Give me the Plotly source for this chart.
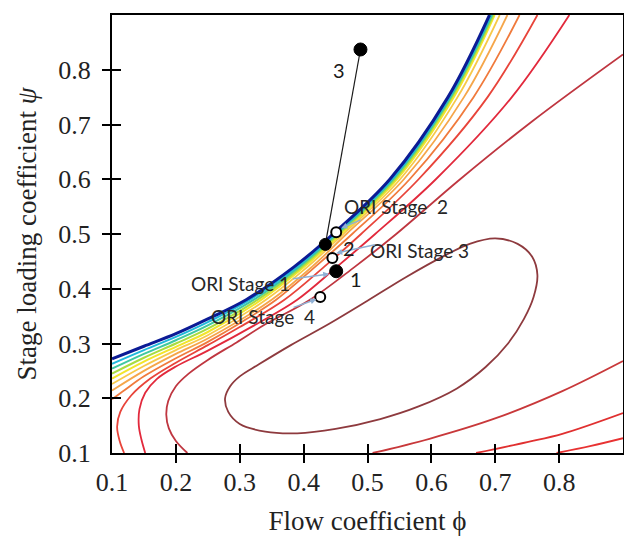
import plotly.graph_objects as go

# ---------------- data ----------------
tick_vals = [0.1, 0.2, 0.3, 0.4, 0.5, 0.6, 0.7, 0.8]
tick_text = ["0.1", "0.2", "0.3", "0.4", "0.5", "0.6", "0.7", "0.8"]
tick_marks = [0.2, 0.3, 0.4, 0.5, 0.6, 0.7, 0.8]

# contour lines (upper family, from the boundary outward)
blue_x = [0.691, 0.626, 0.535, 0.446, 0.385, 0.31, 0.25, 0.2, 0.15, 0.1]
blue_y = [0.9, 0.75, 0.6, 0.5, 0.44, 0.38, 0.345, 0.318, 0.295, 0.272]

c1_x = [0.693, 0.628, 0.538, 0.449, 0.389, 0.316, 0.25, 0.2, 0.15, 0.1]
c1_y = [0.9, 0.75, 0.6, 0.5, 0.44, 0.38, 0.339, 0.312, 0.288, 0.263]
c2_x = [0.695, 0.630, 0.540, 0.452, 0.393, 0.322, 0.25, 0.2, 0.15, 0.1]
c2_y = [0.9, 0.75, 0.6, 0.5, 0.44, 0.38, 0.333, 0.306, 0.281, 0.254]
c3_x = [0.697, 0.632, 0.543, 0.455, 0.397, 0.328, 0.25, 0.2, 0.15, 0.1]
c3_y = [0.9, 0.75, 0.6, 0.5, 0.44, 0.38, 0.327, 0.300, 0.274, 0.245]
c4_x = [0.699, 0.635, 0.546, 0.458, 0.401, 0.334, 0.25, 0.2, 0.15, 0.1]
c4_y = [0.9, 0.75, 0.6, 0.5, 0.44, 0.38, 0.321, 0.294, 0.267, 0.236]
c5_x = [0.707, 0.641, 0.551, 0.462, 0.406, 0.341, 0.25, 0.2, 0.15, 0.1]
c5_y = [0.9, 0.75, 0.6, 0.5, 0.44, 0.38, 0.315, 0.288, 0.259, 0.226]
c6_x = [0.719, 0.651, 0.557, 0.467, 0.413, 0.350, 0.25, 0.2, 0.15, 0.1]
c6_y = [0.9, 0.75, 0.6, 0.5, 0.44, 0.38, 0.309, 0.281, 0.250, 0.214]
c7_x = [0.738, 0.666, 0.566, 0.476, 0.418, 0.357, 0.3, 0.25, 0.2, 0.15, 0.12, 0.1]
c7_y = [0.9, 0.75, 0.6, 0.5, 0.44, 0.38, 0.337, 0.303, 0.273, 0.240, 0.215, 0.198]
c8_x = [0.766, 0.688, 0.580, 0.490, 0.432, 0.370, 0.3, 0.25, 0.2, 0.16, 0.13, 0.113, 0.108, 0.112, 0.119]
c8_y = [0.9, 0.75, 0.6, 0.5, 0.44, 0.38, 0.33, 0.297, 0.265, 0.236, 0.205, 0.175, 0.148, 0.122, 0.1]
c9_x = [0.816, 0.726, 0.607, 0.512, 0.452, 0.39, 0.33, 0.25, 0.2, 0.17, 0.152, 0.143, 0.142, 0.146, 0.152]
c9_y = [0.9, 0.75, 0.6, 0.5, 0.44, 0.38, 0.338, 0.287, 0.258, 0.235, 0.21, 0.18, 0.15, 0.125, 0.1]
c10_x = [0.9, 0.758, 0.645, 0.545, 0.48, 0.41, 0.34, 0.295, 0.25, 0.22, 0.2, 0.188, 0.185, 0.189, 0.2, 0.218]
c10_y = [0.828, 0.706, 0.6, 0.5, 0.44, 0.38, 0.335, 0.302, 0.27, 0.245, 0.222, 0.195, 0.17, 0.145, 0.122, 0.1]

# closed peak-efficiency contour
ell_x = [0.45, 0.52, 0.58, 0.64, 0.685, 0.72, 0.745, 0.760, 0.766, 0.758, 0.735, 0.70, 0.66,
         0.62, 0.56, 0.50, 0.44, 0.38, 0.33, 0.30, 0.285, 0.277, 0.282, 0.30, 0.34, 0.39, 0.45]
ell_y = [0.144, 0.162, 0.185, 0.218, 0.257, 0.300, 0.345, 0.385, 0.425, 0.458, 0.482, 0.492, 0.482,
         0.460, 0.421, 0.378, 0.336, 0.297, 0.262, 0.240, 0.222, 0.200, 0.175, 0.153, 0.139, 0.136, 0.144]

# lower-right branches
br1_x = [0.508, 0.597, 0.702, 0.805, 0.9]
br1_y = [0.1, 0.126, 0.164, 0.213, 0.268]
br2_x = [0.67, 0.75, 0.805, 0.9]
br2_y = [0.1, 0.12, 0.135, 0.173]
br3_x = [0.796, 0.85, 0.9]
br3_y = [0.1, 0.113, 0.127]

# design points
dot_x = [0.489, 0.434, 0.451]
dot_y = [0.837, 0.481, 0.432]
dot_names = ["3", "2", "1"]
dot_label_x = [0.456, 0.471, 0.482]
dot_label_y = [0.800, 0.474, 0.418]

ori_names = ["ORI Stage 1", "ORI Stage  2", "ORI Stage 3", "ORI Stage  4"]
ori_x = [0.451, 0.451, 0.445, 0.426]
ori_y = [0.432, 0.503, 0.456, 0.385]
ori_label_x = [0.301, 0.544, 0.581, 0.337]
ori_label_y = [0.410, 0.551, 0.470, 0.350]
ori_tail_x = [0.381, 0.492, 0.514, 0.382]
ori_tail_y = [0.418, 0.527, 0.481, 0.365]
ori_head_x = [0.440, 0.459, 0.451, 0.420]
ori_head_y = [0.427, 0.511, 0.465, 0.381]

# ---------------- figure ----------------
fig = go.Figure()

lines = [
    (c10_x, c10_y, "#bf3640", 1.8),
    (c9_x, c9_y, "#e2293c", 1.8),
    (c8_x, c8_y, "#e8443a", 1.8),
    (c7_x, c7_y, "#f07a3c", 1.8),
    (c6_x, c6_y, "#f5a64a", 1.8),
    (c5_x, c5_y, "#f7c94a", 1.8),
    (c4_x, c4_y, "#f2e52a", 2.0),
    (c3_x, c3_y, "#a8dc40", 2.0),
    (c2_x, c2_y, "#40c8a0", 2.0),
    (c1_x, c1_y, "#20b8dc", 2.0),
    (blue_x, blue_y, "#0b1b95", 3.0),
    (ell_x, ell_y, "#8e3a3e", 1.8),
    (br1_x, br1_y, "#c8383a", 1.8),
    (br2_x, br2_y, "#e03030", 1.8),
    (br3_x, br3_y, "#e83232", 1.8),
]
for xs, ys, col, w in lines:
    fig.add_trace(go.Scatter(x=xs, y=ys, mode="lines",
                             line=dict(color=col, width=w, shape="spline", smoothing=1.0),
                             showlegend=False, hoverinfo="skip"))

# line joining point 3 to point 2
fig.add_trace(go.Scatter(x=[dot_x[0], dot_x[1]], y=[dot_y[0], dot_y[1]], mode="lines",
                         line=dict(color="#1a1a1a", width=1.2), showlegend=False))

# ORI open circles
fig.add_trace(go.Scatter(x=ori_x[1:], y=ori_y[1:], mode="markers",
                         marker=dict(size=10, color="white", line=dict(color="black", width=2)),
                         showlegend=False))
# filled design points
fig.add_trace(go.Scatter(x=dot_x, y=dot_y, mode="markers",
                         marker=dict(size=[13, 12, 13], color="#000000", opacity=1,
                                     line=dict(color="#000000", width=1)),
                         showlegend=False))

# dummy traces for the tick-only overlay axes
fig.add_trace(go.Scatter(x=[None], y=[None], xaxis="x2", yaxis="y2", showlegend=False))
fig.add_trace(go.Scatter(x=[None], y=[None], xaxis="x3", yaxis="y3", showlegend=False))

ann = []
lab_font = dict(family="Lato", size=19, color="#262626")
for n, lx, ly in zip(ori_names, ori_label_x, ori_label_y):
    ann.append(dict(x=lx, y=ly, xref="x", yref="y", text=n, showarrow=False, font=lab_font))
for hx, hy, tx, ty in zip(ori_head_x, ori_head_y, ori_tail_x, ori_tail_y):
    ann.append(dict(x=hx, y=hy, ax=tx, ay=ty, xref="x", yref="y", axref="x", ayref="y",
                    text="", showarrow=True, arrowhead=2, arrowsize=0.8, arrowwidth=1.5,
                    arrowcolor="#8fb0d4"))
for n, lx, ly in zip(dot_names, dot_label_x, dot_label_y):
    ann.append(dict(x=lx, y=ly, xref="x", yref="y", text=n, showarrow=False,
                    font=dict(family="Lato", size=20, color="#1a1a1a")))

serif = "Liberation Serif"
common_main = dict(range=[0.1, 0.9], tickvals=tick_vals, ticktext=tick_text, ticks="",
                   showline=True, linewidth=2, linecolor="black", mirror=True,
                   showgrid=False, zeroline=False, automargin=False,
                   tickfont=dict(family=serif, size=26, color="#222"))
tick_only = dict(range=[0.1, 0.9], tickvals=tick_marks, showticklabels=False, showline=False,
                 showgrid=False, zeroline=False, automargin=False,
                 ticklen=9, tickwidth=2, tickcolor="black")

fig.update_layout(
    width=624, height=536,
    margin=dict(l=112, r=1, t=15, b=83, autoexpand=False),
    paper_bgcolor="white", plot_bgcolor="white",
    showlegend=False,
    xaxis=dict(**common_main, ticklabelstandoff=5,
               title=dict(text="Flow coefficient ϕ", font=dict(family=serif, size=27, color="#222"),
                          standoff=22)),
    yaxis=dict(**common_main, ticklabelstandoff=14,
               title=dict(text="Stage loading coefficient <i>ψ</i>",
                          font=dict(family=serif, size=27, color="#222"), standoff=14)),
    xaxis2=dict(**tick_only, overlaying="x", anchor="y", side="bottom", ticks="outside"),
    yaxis2=dict(**tick_only, overlaying="y", anchor="x", side="left", ticks="outside"),
    xaxis3=dict(**tick_only, overlaying="x", anchor="y", side="bottom", ticks="inside"),
    yaxis3=dict(**tick_only, overlaying="y", anchor="x", side="left", ticks="inside"),
    annotations=ann,
)

fig.write_html("out.html")
